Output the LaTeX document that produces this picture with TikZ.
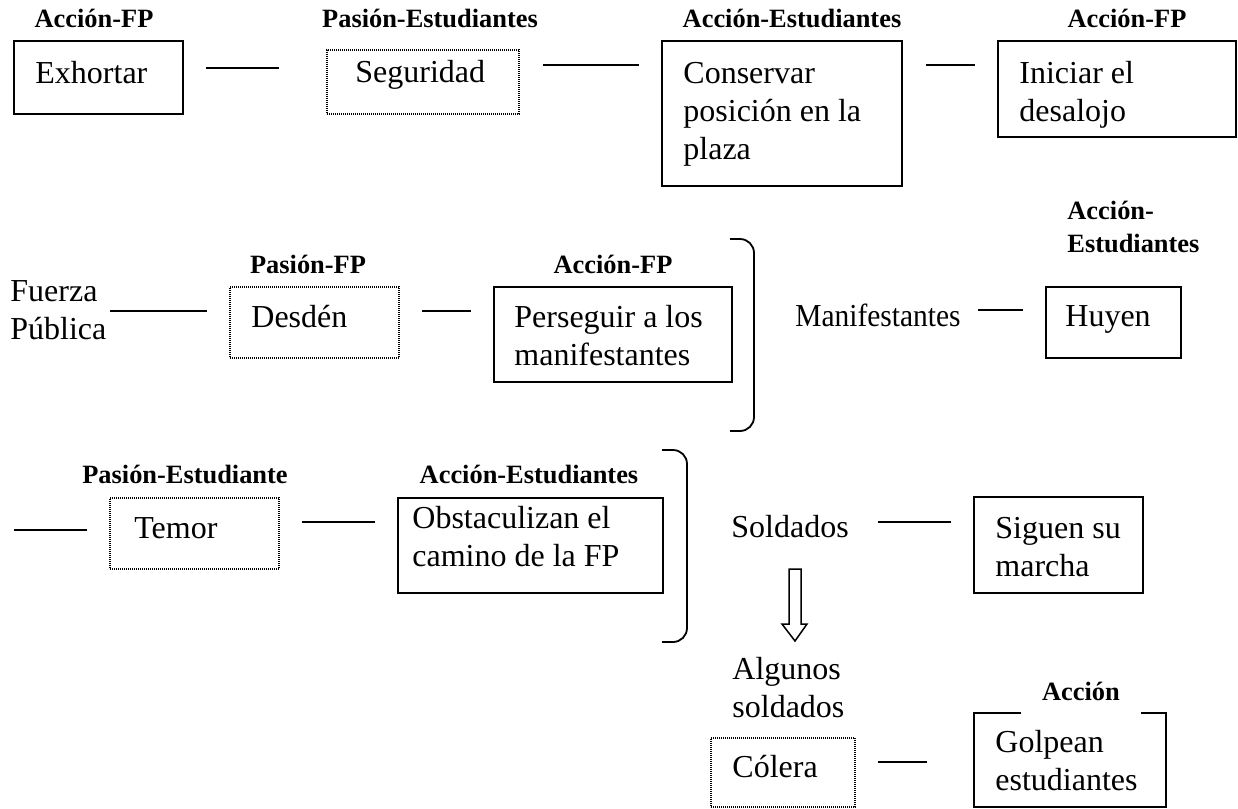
\documentclass[tikz,border=0pt]{standalone}
\usepackage{fontspec}
\usepackage{graphicx}
\setmainfont{Liberation Serif}
\usetikzlibrary{fit}
\begin{document}
\begin{tikzpicture}[x=0.5pt,y=-0.5pt,
  box/.style={draw, line width=0.75pt, inner sep=0pt},
  pbox/.style={draw, line width=0.6pt, dash pattern=on 0.45pt off 0.55pt, inner sep=0pt},
  txt/.style={font=\fontsize{16}{19}\selectfont, inner sep=0pt, anchor=base west, align=left},
  tag/.style={font=\fontsize{13.2}{16.5}\selectfont\bfseries, inner sep=0pt, anchor=base},
  link/.style={line width=0.9pt},
  brk/.style={line width=0.9pt, rounded corners=7pt}]
\useasboundingbox (0,0) rectangle (1238,809);
% multi-line texts are placed by the baseline of their last line

% ---- first row ----
\node[box, fit={(14,41) (183,114)}] (exh) {};
\node[txt] (exht) at (35,83) {Exhortar};
\node[tag] (exhl) at (94,27) {Acción-FP};

\node[pbox, fit={(327,50) (519,114)}] (seg) {};
\node[txt] (segt) at (355,82) {Seguridad};
\node[tag] (segl) at (430,27) {Pasión-Estudiantes};

\node[box, fit={(662,41) (902,186)}] (cons) {};
\node[txt] (const) at (683,159) {Conservar\\posición en la\\plaza};
\node[tag] (consl) at (792,27) {Acción-Estudiantes};

\node[box, fit={(998,41) (1236,137)}] (ini) {};
\node[txt] (init) at (1019,121) {Iniciar el\\desalojo};
\node[tag] (inil) at (1127,27) {Acción-FP};

\coordinate (a1) at (206,68);  \coordinate (b1) at (279,68);
\coordinate (a2) at (543,65);  \coordinate (b2) at (639,65);
\coordinate (a3) at (926,65);  \coordinate (b3) at (975,65);
\draw[link] (a1) -- (b1);
\draw[link] (a2) -- (b2);
\draw[link] (a3) -- (b3);

% ---- second row ----
\node[txt] (fp) at (10,339) {Fuerza\\Pública};

\node[pbox, fit={(230,287) (399,358)}] (des) {};
\node[txt] (dest) at (251,327) {Desdén};
\node[tag] (desl) at (308,273) {Pasión-FP};

\node[box, fit={(494,287) (732,382)}] (per) {};
\node[txt] (pert) at (514,365) {Perseguir a los\\manifestantes};
\node[tag] (perl) at (613,273) {Acción-FP};

\coordinate (k1a) at (730,239); \coordinate (k1b) at (730,431);
\draw[brk] (k1a) -- (754,239) -- (754,431) -- (k1b);

\node[txt] (man) at (795,326) {\scalebox{0.92}[1]{Manifestantes}};

\node[box, fit={(1046,287) (1181,358)}] (huy) {};
\node[txt] (huyt) at (1065,326) {Huyen};
\node[tag, anchor=base west, align=left] (huyl) at (1067,252) {Acción-\\Estudiantes};

\coordinate (a4) at (110,311);  \coordinate (b4) at (207,311);
\coordinate (a5) at (422,311);  \coordinate (b5) at (471,311);
\coordinate (a6) at (978,310);  \coordinate (b6) at (1023,310);
\draw[link] (a4) -- (b4);
\draw[link] (a5) -- (b5);
\draw[link] (a6) -- (b6);

% ---- third row ----
\node[pbox, fit={(110,498) (279,569)}] (tem) {};
\node[txt] (temt) at (134,538) {Temor};
\node[tag] (teml) at (185,483) {Pasión-Estudiante};

\node[box, fit={(398,498) (663,593)}] (obs) {};
\node[txt] (obst) at (412,566) {Obstaculizan el\\camino de la FP};
\node[tag] (obsl) at (529,483) {Acción-Estudiantes};

\coordinate (k2a) at (662,450); \coordinate (k2b) at (662,642);
\draw[brk] (k2a) -- (687,450) -- (687,642) -- (k2b);

\node[txt] (sol) at (731,537) {Soldados};

\node[box, fit={(974,497) (1143,593)}] (sig) {};
\node[txt] (sigt) at (995,576) {Siguen su\\marcha};

\coordinate (a7) at (14,530);   \coordinate (b7) at (87,530);
\coordinate (a8) at (302,522);  \coordinate (b8) at (375,522);
\coordinate (a9) at (878,522);  \coordinate (b9) at (951,522);
\draw[link] (a7) -- (b7);
\draw[link] (a8) -- (b8);
\draw[link] (a9) -- (b9);

% hollow down arrow
\draw[line width=0.75pt, line join=miter]
  (789,569) -- (801,569) -- (801,624) -- (807,624) -- (795,641)
  -- (782,624) -- (789,624) -- cycle;

% ---- bottom group ----
\node[txt] (alg) at (732,717) {Algunos\\soldados};

\node[pbox, fit={(711,738) (855,807)}] (col) {};
\node[txt] (colt) at (732,777) {Cólera};

\node[box, fit={(974,713) (1166,807)}] (gol) {};
\node[txt] (golt) at (995,790) {Golpean\\estudiantes};
\node[tag, fill=white, inner xsep=10.5pt, inner ysep=8pt] (goll) at (1081,700) {Acción};

\coordinate (a10) at (878,762); \coordinate (b10) at (927,762);
\draw[link] (a10) -- (b10);
\end{tikzpicture}
\end{document}
